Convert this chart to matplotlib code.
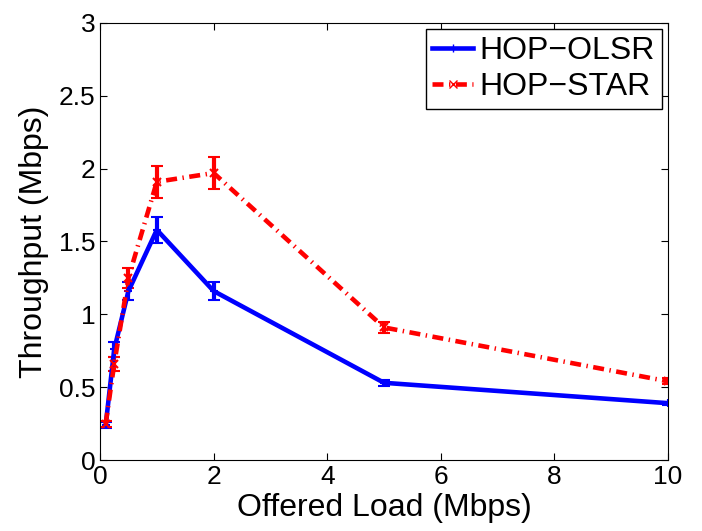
import numpy as np
import matplotlib.pyplot as plt
from matplotlib.lines import Line2D

plt.rcParams['font.family'] = ['Liberation Sans', 'DejaVu Sans']

load = [0.1, 0.25, 0.5, 1, 2, 5, 10]

olsr = [0.24, 0.76, 1.16, 1.58, 1.16, 0.53, 0.39]
olsr_err = [0.02, 0.05, 0.06, 0.09, 0.06, 0.02, 0.01]

star = [0.25, 0.66, 1.25, 1.91, 1.97, 0.91, 0.54]
star_err = [0.02, 0.05, 0.07, 0.11, 0.11, 0.04, 0.02]

dashdot = (0, (2.4, 1.2, 0.3, 1.2))

fig = plt.figure(figsize=(7.02, 5.31), dpi=100)
ax = fig.add_axes([0.1425, 0.1337, 0.8091, 0.823])

ax.errorbar(load, olsr, yerr=olsr_err, color='blue', lw=3.3, marker='+', ms=6,
            mew=1.5, capsize=4.5, capthick=3, elinewidth=3)
ax.errorbar(load, star, yerr=star_err, color='red', lw=3.3, ls=dashdot, marker='x', ms=6,
            mew=1.5, capsize=4.5, capthick=3, elinewidth=3)

handles = [Line2D([], [], color='blue', lw=3.3, marker='+', ms=6, mew=1),
           Line2D([], [], color='red', lw=3.3, ls=dashdot, marker='x', ms=6, mew=1)]

ax.set_xlim(0, 10)
ax.set_ylim(0, 3)
ax.set_xticks([0, 2, 4, 6, 8, 10])
ax.set_yticks([0, 0.5, 1, 1.5, 2, 2.5, 3])
ax.set_yticklabels(['0', '0.5', '1', '1.5', '2', '2.5', '3'])
ax.tick_params(direction='in', top=True, right=True, labelsize=19, length=5)
ax.set_xlabel('Offered Load (Mbps)', fontsize=23, labelpad=3)
ax.set_ylabel('Throughput (Mbps)', fontsize=23, labelpad=7)

leg = ax.legend(handles, ['HOP\u2212OLSR', 'HOP\u2212STAR'], loc='upper right',
                fontsize=23, fancybox=False, framealpha=1, edgecolor='black',
                handlelength=1.3, borderpad=0.2, labelspacing=0.2,
                borderaxespad=0.2, handletextpad=0.2)
leg.get_frame().set_linewidth(1)

fig.savefig('out.png', dpi=100)
